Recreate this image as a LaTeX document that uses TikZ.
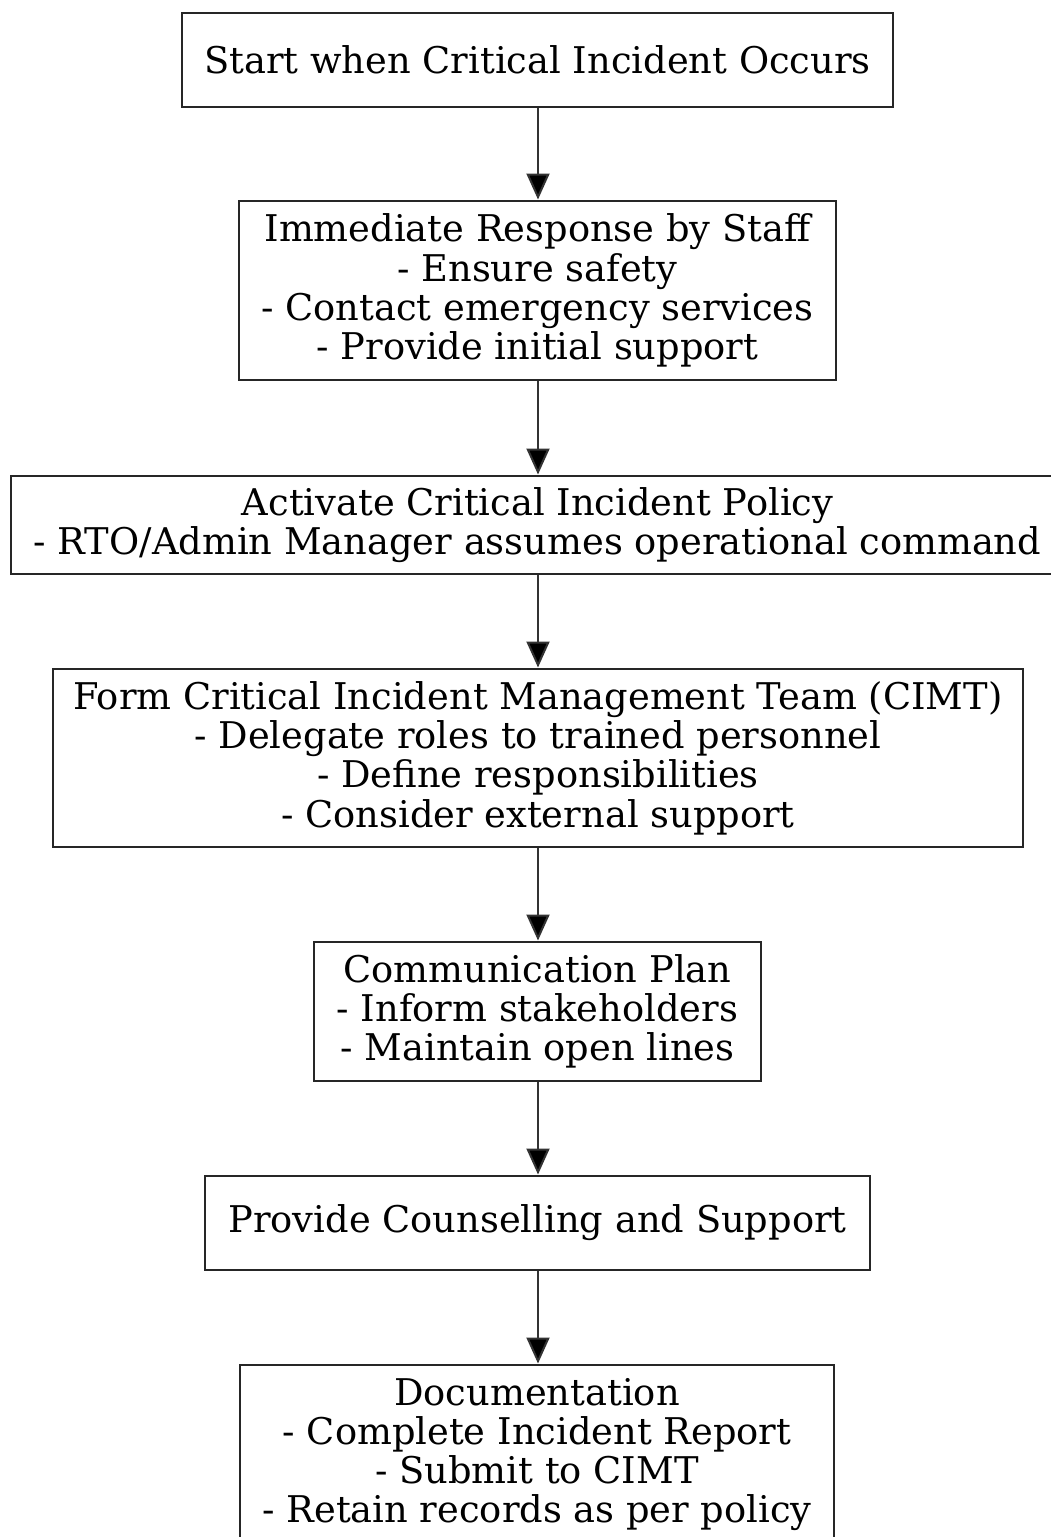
\documentclass[tikz,border=0pt]{standalone}
\usepackage{fontspec}
\setmainfont{DejaVu Serif}
\usetikzlibrary{arrows.meta}
\begin{document}
\begin{tikzpicture}[x=1pt,y=-1pt,
  box/.style={draw=black!85, line width=2pt, inner sep=0pt, align=center,
    font=\fontsize{36.8}{39.3}\selectfont},
  conn/.style={draw=black!80, line width=2pt, -{Triangle[length=26pt,width=23pt,fill=black]}, shorten >=0.5pt}
]
\useasboundingbox[fill=white] (0,0) rectangle (1051,1537);
\node[box, minimum width=711pt, minimum height=94pt] (start) at (537.5,60) {Start when Critical Incident Occurs};
\node[box, minimum width=597pt, minimum height=179pt] (imm) at (537.5,290.5) {Immediate Response by Staff\\- Ensure safety\\- Contact emergency services\\- Provide initial support};
\node[box, minimum width=1053pt, minimum height=98pt] (act) at (537.5,525) {Activate Critical Incident Policy\\- RTO/Admin Manager assumes operational command};
\node[box, minimum width=970pt, minimum height=178pt] (form) at (538,758) {Form Critical Incident Management Team (CIMT)\\- Delegate roles to trained personnel\\- Define responsibilities\\- Consider external support};
\node[box, minimum width=447pt, minimum height=139pt] (comm) at (537.5,1011.5) {Communication Plan\\- Inform stakeholders\\- Maintain open lines};
\node[box, minimum width=665pt, minimum height=94pt] (prov) at (537.5,1223) {Provide Counselling and Support};
\node[box, minimum width=594pt, minimum height=179pt] (doc) at (537,1454.5) {Documentation\\- Complete Incident Report\\- Submit to CIMT\\- Retain records as per policy};
\draw[conn] (start.south -| 538,0) -- (imm.north -| 538,0);
\draw[conn] (imm.south -| 538,0) -- (act.north -| 538,0);
\draw[conn] (act.south -| 538,0) -- (form.north -| 538,0);
\draw[conn] (form.south -| 538,0) -- (comm.north -| 538,0);
\draw[conn] (comm.south -| 538,0) -- (prov.north -| 538,0);
\draw[conn] (prov.south -| 538,0) -- (doc.north -| 538,0);
\end{tikzpicture}
\end{document}
